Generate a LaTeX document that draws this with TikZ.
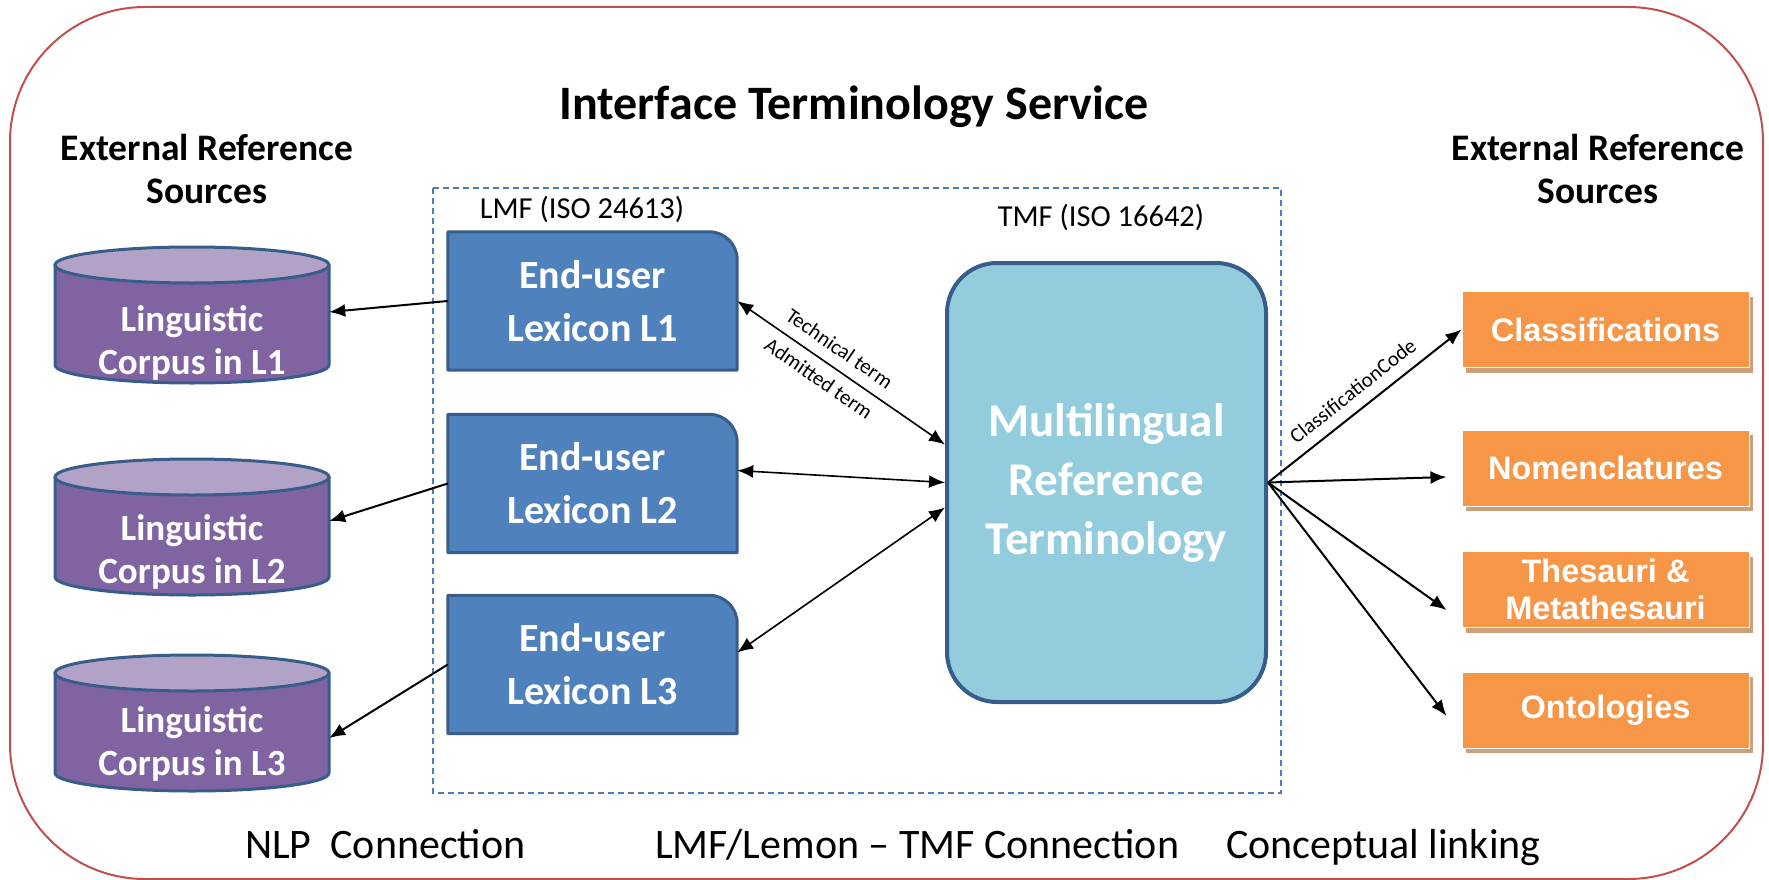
\documentclass[tikz,border=0pt]{standalone}
\usepackage{fontspec}
\setmainfont{Carlito}
\newfontfamily\arialfont{Liberation Sans}
\usetikzlibrary{arrows.meta,shadows,backgrounds}
\definecolor{framered}{RGB}{192,80,77}
\definecolor{dashblue}{RGB}{74,126,187}
\definecolor{lexfill}{RGB}{79,129,189}
\definecolor{lexdraw}{RGB}{56,93,138}
\definecolor{mrtfill}{RGB}{147,205,221}
\definecolor{cylbody}{RGB}{128,100,162}
\definecolor{cyltop}{RGB}{179,162,199}
\definecolor{orangefill}{RGB}{247,150,70}
\definecolor{orangeshadow}{RGB}{204,160,124}
\begin{document}
\begin{tikzpicture}[x=1pt,y=-1pt,
  lexbox/.style={minimum width=289pt, minimum height=138pt, inner sep=0pt, text=white,
    font=\bfseries\fontsize{40}{53}\selectfont, align=center},
  lexshape/.style={fill=lexfill, draw=lexdraw, line width=3pt, line join=round},
  cyltxt/.style={minimum width=274pt, minimum height=100pt, inner sep=0pt, text=white,
    font=\bfseries\fontsize{37}{43}\selectfont, align=center},
  cylbodystyle/.style={fill=cylbody, draw=lexdraw, line width=3pt, line join=round},
  cyltopstyle/.style={fill=cyltop, draw=lexdraw, line width=3pt},
  mrtbox/.style={fill=mrtfill, draw=lexdraw, line width=4pt, rounded corners=50pt,
    minimum width=319pt, minimum height=439pt, inner sep=0pt, text=white,
    font=\bfseries\fontsize{47}{59}\selectfont, align=center},
  refbox/.style={fill=orangefill, draw=white, line width=1pt, minimum width=287pt,
    minimum height=76pt, inner sep=0pt, text=white,
    font=\arialfont\bfseries\fontsize{32.5}{37}\selectfont, align=center,
    drop shadow={shadow xshift=4pt, shadow yshift=-5pt, fill=orangeshadow, opacity=1}},
  arr/.style={-{Latex[length=16pt,width=13pt]}, line width=2pt},
  darr/.style={{Latex[length=16pt,width=13pt]}-{Latex[length=16pt,width=13pt]}, line width=1.6pt},
  lbl/.style={font=\fontsize{21}{25}\selectfont, inner sep=3pt},
  headlbl/.style={font=\bfseries\fontsize{37.5}{43}\selectfont, align=center},
  stdlbl/.style={font=\fontsize{30.5}{35}\selectfont},
  bottomlbl/.style={font=\fontsize{42}{48}\selectfont, anchor=base west, inner sep=0pt}
]
\useasboundingbox (0,0) rectangle (1769,880);

% texts
\node[font=\bfseries\fontsize{48}{56}\selectfont, anchor=base] (title) at (854,120) {Interface Terminology Service};
\node[headlbl] (extl) at (207,168.5) {External Reference\\Sources};
\node[headlbl] (extr) at (1598,168.5) {External Reference\\Sources};
\node[stdlbl] (lmf) at (582,209) {LMF (ISO 24613)};
\node[stdlbl] (tmf) at (1101,217) {TMF (ISO 16642)};
\node[bottomlbl] (nlp) at (245,858) {NLP\hspace{0.45em}Connection};
\node[bottomlbl] (lemon) at (655,858) {LMF/Lemon – TMF Connection};
\node[bottomlbl] (concept) at (1226,858) {Conceptual linking};

% lexicons
\node[lexbox] (l1) at (592.5,301) {End-user\\Lexicon L1};
\node[lexbox] (l2) at (592.5,483.5) {End-user\\Lexicon L2};
\node[lexbox] (l3) at (592.5,664.5) {End-user\\Lexicon L3};

% corpora
\node[cyltxt] (c1) at (192,343) {Linguistic\\Corpus in L1};
\node[cyltxt] (c2) at (192,552) {Linguistic\\Corpus in L2};
\node[cyltxt] (c3) at (192,744) {Linguistic\\Corpus in L3};

% MRT
\node[mrtbox] (m) at (1106.5,482.5) {\rule{0pt}{12pt}Multilingual\\Reference\\Terminology};

% external sources right
\node[refbox] (cls) at (1605.5,329.5) {Classifications};
\node[refbox] (nom) at (1605.5,468) {Nomenclatures};
\node[refbox] (thes) at (1605.5,589.5) {Thesauri \&\\Metathesauri};
\node[refbox] (ont) at (1605.5,710) {Ontologies};

\begin{scope}[on background layer]
  \draw[framered, line width=2pt, rounded corners=135pt] (10,7) rectangle (1763,879);
  \draw[dashblue, line width=1.2pt, dash pattern=on 6pt off 4pt] (433,188) rectangle (1281,793);
  \foreach \n in {l1,l2,l3}{
    \path[lexshape] (\n.south west) -- (\n.north west) -- ([xshift=-28pt]\n.north east)
      .. controls ([xshift=-12.5pt]\n.north east) and ([yshift=-12.5pt]\n.north east) ..
      ([yshift=-28pt]\n.north east) -- (\n.south east) -- cycle;
  }
  \foreach \yt in {265,477,673}{
    \path[cylbodystyle] (55,\yt) -- (55,\yt+100) arc[start angle=180, end angle=0, x radius=137, y radius=18] -- (329,\yt) -- cycle;
    \path[cyltopstyle] (192,\yt) ellipse [x radius=137, y radius=18];
  }
\end{scope}

% connectors lexicon -> corpus
\draw[arr] (l1.west) -- ([yshift=31pt]c1.east);
\draw[arr] (l2.west) -- ([yshift=31pt]c2.east);
\draw[arr] (l3.west) -- ([yshift=6pt]c3.east);

% lexicon <-> MRT
\draw[darr] (l1.east) -- ([yshift=38pt]m.west)
  node[pos=0.44, sloped, above=8pt, lbl] (tt) {Technical term}
  node[pos=0.44, sloped, below=6pt, lbl] (at) {Admitted term};
\draw[darr] ([yshift=13pt]l2.east) -- (m.west);
\draw[darr] ([yshift=12pt]l3.east) -- ([yshift=-25pt]m.west);

% MRT -> external
\draw[arr] (m.east) -- (cls.west) node[midway, sloped, above=8pt, lbl] (cc) {ClassificationCode};
\draw[arr] (m.east) -- ([xshift=-15pt,yshift=-9pt]nom.west);
\draw[arr] (m.east) -- ([xshift=-15pt,yshift=-20.5pt]thes.west);
\draw[arr] (m.east) -- ([xshift=-15pt,yshift=-6pt]ont.west);
\end{tikzpicture}
\end{document}
